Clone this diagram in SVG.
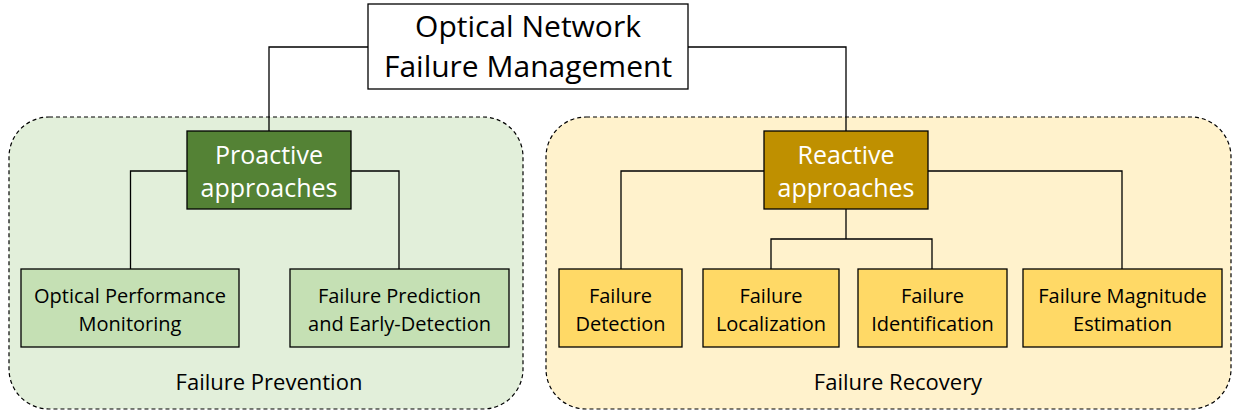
<svg xmlns="http://www.w3.org/2000/svg" width="1233" height="415" viewBox="0 0 1233 415">
<style>
text{font-family:"Open Sans","Liberation Sans",sans-serif;text-anchor:middle;fill:#000}
.box{stroke:#000;stroke-width:1.3}
.cont{stroke:#000;stroke-width:1.2;stroke-dasharray:4 3}
.conn{fill:none;stroke:#000;stroke-width:1.3}
.sub{font-size:20px}
.mid{font-size:25px;fill:#fff}
.top{font-size:30px}
.lab{font-size:22px}
</style>
<rect width="1233" height="415" fill="#fff"/>
<g id="prevention">
<rect class="cont" x="9" y="117" width="514" height="292" rx="40" fill="#E2EFDA"/>
<text class="lab" x="269" y="390">Failure Prevention</text>
</g>
<g id="recovery">
<rect class="cont" x="546" y="117" width="685" height="292" rx="40" fill="#FFF2CC"/>
<text class="lab" x="898" y="390">Failure Recovery</text>
</g>
<g id="connectors">
<path class="conn" d="M368 47H269V131"/>
<path class="conn" d="M688 47H846V131"/>
<path class="conn" d="M187 171H130.5V269"/>
<path class="conn" d="M351 171H399V269"/>
<path class="conn" d="M764 171H621V269"/>
<path class="conn" d="M928 171H1122V269"/>
<path class="conn" d="M846 209V239"/>
<path class="conn" d="M771 269V239H932V269"/>
</g>
<g id="root">
<rect class="box" x="368" y="4" width="320" height="85" fill="#fff"/>
<text class="top" x="528" y="37">Optical Network</text>
<text class="top" x="528" y="77">Failure Management</text>
</g>
<g id="proactive">
<rect class="box" x="187" y="131" width="164" height="78" fill="#548235"/>
<text class="mid" x="269" y="164">Proactive</text>
<text class="mid" x="269" y="197">approaches</text>
</g>
<g id="reactive">
<rect class="box" x="764" y="131" width="164" height="78" fill="#BF9000"/>
<text class="mid" x="846" y="164">Reactive</text>
<text class="mid" x="846" y="197">approaches</text>
</g>
<g id="opm">
<rect class="box" x="21" y="269" width="218" height="78" fill="#C5E0B4"/>
<text class="sub" x="130" y="303">Optical Performance</text>
<text class="sub" x="130" y="331">Monitoring</text>
</g>
<g id="fped">
<rect class="box" x="290" y="269" width="219" height="78" fill="#C5E0B4"/>
<text class="sub" x="399.5" y="303">Failure Prediction</text>
<text class="sub" x="399.5" y="331">and Early-Detection</text>
</g>
<g id="detection">
<rect class="box" x="559" y="269" width="123" height="78" fill="#FFD966"/>
<text class="sub" x="620.5" y="303">Failure</text>
<text class="sub" x="620.5" y="331">Detection</text>
</g>
<g id="localization">
<rect class="box" x="703" y="269" width="136" height="78" fill="#FFD966"/>
<text class="sub" x="771" y="303">Failure</text>
<text class="sub" x="771" y="331">Localization</text>
</g>
<g id="identification">
<rect class="box" x="858" y="269" width="149" height="78" fill="#FFD966"/>
<text class="sub" x="932.5" y="303">Failure</text>
<text class="sub" x="932.5" y="331">Identification</text>
</g>
<g id="magnitude">
<rect class="box" x="1023" y="269" width="199" height="78" fill="#FFD966"/>
<text class="sub" x="1122.5" y="303">Failure Magnitude</text>
<text class="sub" x="1122.5" y="331">Estimation</text>
</g>
</svg>
